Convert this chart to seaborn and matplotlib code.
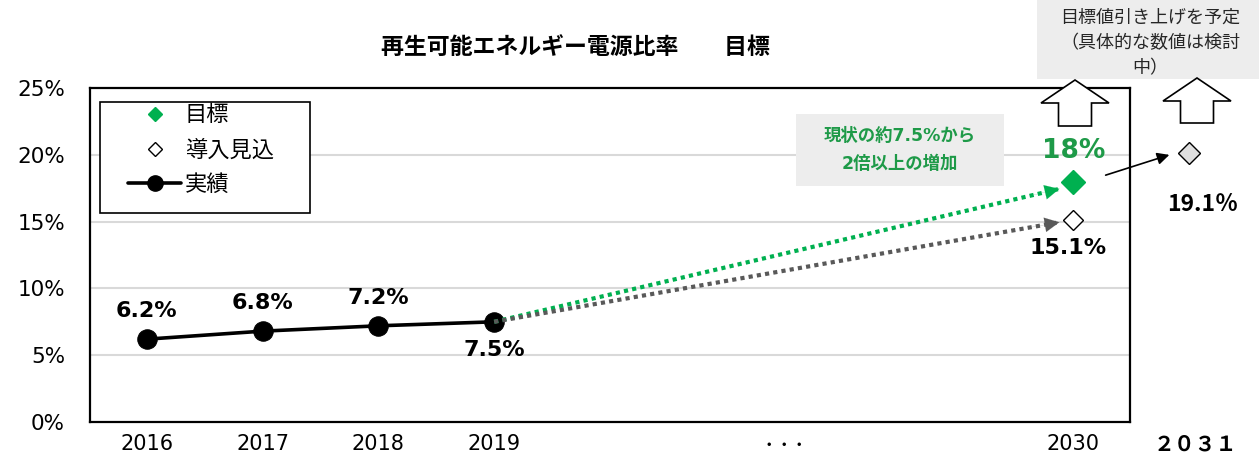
import matplotlib
matplotlib.use("Agg")
import matplotlib.pyplot as plt
import seaborn as sns
from matplotlib.lines import Line2D
from matplotlib.patches import Polygon, Rectangle

# data
years = ["2016", "2017", "2018", "2019"]
actual = [6.2, 6.8, 7.2, 7.5]
target_2030 = 18.0
outlook_2030 = 15.1
outlook_2031_label = 19.1
outlook_2031_level = 20.1  # where the marker sits in the picture
y_ticks = [0, 5, 10, 15, 20, 25]

W, H = 1259, 458

sns.set_theme(style="white")
plt.rcParams["font.family"] = ["DejaVu Sans", "Noto Sans CJK JP"]
plt.rcParams["text.color"] = "black"

fig = plt.figure(figsize=(W / 100, H / 100), dpi=100)
ax = fig.add_axes([90 / W, (H - 422) / H, 1040 / W, 334 / H])

# category positions (gap between 2019 and 2030)
pos = [0, 1, 2, 3]
pos_2030, pos_dots, pos_2031 = 8, 5.5, 9

GREEN = "#00B050"
GREEN_TXT = "#1E9A48"
GRAY = "#595959"

# gridlines
for v in y_ticks[1:-1]:
    ax.axhline(v, color="#D9D9D9", lw=1.5, zorder=0)

# actual values
sns.lineplot(x=pos, y=actual, color="black", marker="o", markersize=14,
             markeredgecolor="black", linewidth=2.6, ax=ax, zorder=3)
for x, v in zip(pos, actual):
    off = -20 if x == 3 else 20
    ax.annotate(f"{v}%", (x, v), xytext=(0, off), textcoords="offset points",
                ha="center", va="center", fontsize=16, fontweight="bold", color="black")

# dotted projection arrows
for end_y, color in [(target_2030 - 0.55, GREEN), (outlook_2030 - 0.15, GRAY)]:
    tip = (pos_2030 - 0.12, end_y)
    ax.plot([pos[-1], tip[0]], [actual[-1], tip[1]], color=color, lw=3,
            linestyle=(0, (1, 1)), dash_capstyle="butt", zorder=4)
    back = (tip[0] - 0.25, tip[1] - (tip[1] - actual[-1]) * 0.25 / (tip[0] - pos[-1]))
    ax.annotate("", xy=tip, xytext=back,
                arrowprops=dict(arrowstyle="-|>", color=color, lw=0.1,
                                mutation_scale=26, shrinkA=0, shrinkB=0), zorder=4)

# 2030 markers
ax.plot([pos_2030], [target_2030], marker="D", markersize=12.5, color=GREEN,
        linestyle="none", zorder=5)
ax.plot([pos_2030], [outlook_2030], marker="D", markersize=10, markerfacecolor="white",
        markeredgecolor="black", markeredgewidth=1, linestyle="none", zorder=5)
ax.annotate(f"{target_2030:.0f}%", (pos_2030, target_2030), xytext=(0, 22),
            textcoords="offset points", ha="center", va="center", fontsize=19,
            fontweight="bold", color=GREEN_TXT)
ax.annotate(f"{outlook_2030}%", (pos_2030, outlook_2030), xytext=(-4, -20),
            textcoords="offset points", ha="center", va="center", fontsize=16,
            fontweight="bold", color="black")

# 2031 marker outside the frame
ax.plot([pos_2031], [outlook_2031_level], marker="D", markersize=11.5,
        markerfacecolor="#E0E0E0", markeredgecolor="black", markeredgewidth=1,
        linestyle="none", clip_on=False, zorder=5)
ax.annotate(f"{outlook_2031_label}％", (pos_2031, outlook_2031_level), xytext=(10, -37),
            textcoords="offset points", ha="center", va="center", fontsize=16.5,
            fontweight="bold", family=["Noto Sans CJK JP"], color="black",
            annotation_clip=False)
ax.annotate("", xy=(1172, H - 154), xytext=(1103, H - 176), xycoords="figure pixels",
            textcoords="figure pixels",
            arrowprops=dict(arrowstyle="-|>", color="black", lw=1.2, mutation_scale=18))

# axes
ax.set_xlim(-0.49, 8.49)
ax.set_ylim(0, 25)
ax.set_yticks(y_ticks)
ax.set_yticklabels([f"{v}%" for v in y_ticks])
ax.set_xticks(pos + [pos_dots, pos_2030])
ax.set_xticklabels(years + ["･ ･ ･", "2030"])
ax.get_xticklabels()[4].set_family(["Noto Sans CJK JP"])
ax.tick_params(axis="y", length=0, pad=18, labelsize=15.5, colors="black")
ax.tick_params(axis="x", length=0, pad=9, labelsize=15, colors="black")
for s in ax.spines.values():
    s.set_color("black")
    s.set_linewidth(1.6)
ax.set_xlabel("")
ax.set_ylabel("")
fig.text(1195 / W, 1 - 444 / H, "２０３１", ha="center", va="center", fontsize=15,
         fontweight="bold", family=["Noto Sans CJK JP"], color="black")

# legend
ax.add_patch(Rectangle(((100 - 90) / 1040, (422 - 213) / 334), 210 / 1040, 111 / 334,
                       transform=ax.transAxes, facecolor="white", edgecolor="black",
                       lw=1.2, zorder=6))
handles = [
    Line2D([], [], marker="D", color=GREEN, linestyle="none", markersize=7),
    Line2D([], [], marker="D", markerfacecolor="white", markeredgecolor="black",
           linestyle="none", markersize=7),
    Line2D([], [], marker="o", color="black", lw=2.6, markersize=11),
]
leg = ax.legend(handles, ["目標", "導入見込", "実績"], loc="upper left",
                bbox_to_anchor=((128 - 90) / 1040, (422 - 105) / 334), frameon=False,
                fontsize=16, handlelength=2.4, handletextpad=0.15, labelspacing=0.62,
                borderpad=0, borderaxespad=0)
for t in leg.get_texts():
    t.set_color("black")
leg.set_zorder(7)

# title
fig.text(575 / W, 1 - 47 / H, "再生可能エネルギー電源比率　　目標", ha="center",
         va="center", fontsize=16.5, fontweight="bold", color="black")

# green note box
fig.patches.append(Rectangle((796 / W, 1 - 186 / H), 208 / W, 72 / H,
                             transform=fig.transFigure, facecolor="#EDEDED",
                             edgecolor="none", zorder=1))
fig.text(900 / W, 1 - 150 / H, "現状の約7.5%から\n2倍以上の増加", ha="center", va="center",
         fontsize=12.5, fontweight="bold", color=GREEN_TXT, linespacing=1.7, zorder=2)

# top-right note box
fig.patches.append(Rectangle((1037 / W, 1 - 79 / H), 222 / W, 79 / H,
                             transform=fig.transFigure, facecolor="#EDEDED",
                             edgecolor="none", zorder=1))
fig.text(1150 / W, 1 - 43 / H, "目標値引き上げを予定\n（具体的な数値は検討\n中）",
         ha="center", va="center", fontsize=13, color="#262626", linespacing=1.55,
         zorder=2)


# hollow block arrows
def block_arrow(c, top, head, bottom, hw=34, sw=16.5):
    pts = [(c, top), (c + hw, head), (c + sw, head), (c + sw, bottom),
           (c - sw, bottom), (c - sw, head), (c - hw, head)]
    pts = [(x / W, 1 - y / H) for x, y in pts]
    fig.patches.append(Polygon(pts, closed=True, transform=fig.transFigure,
                               facecolor="white", edgecolor="black", lw=1.2, zorder=3))


block_arrow(1075, 80, 103, 126)
block_arrow(1197, 78, 101, 123)

fig.savefig("out.png", dpi=100, facecolor="white")
